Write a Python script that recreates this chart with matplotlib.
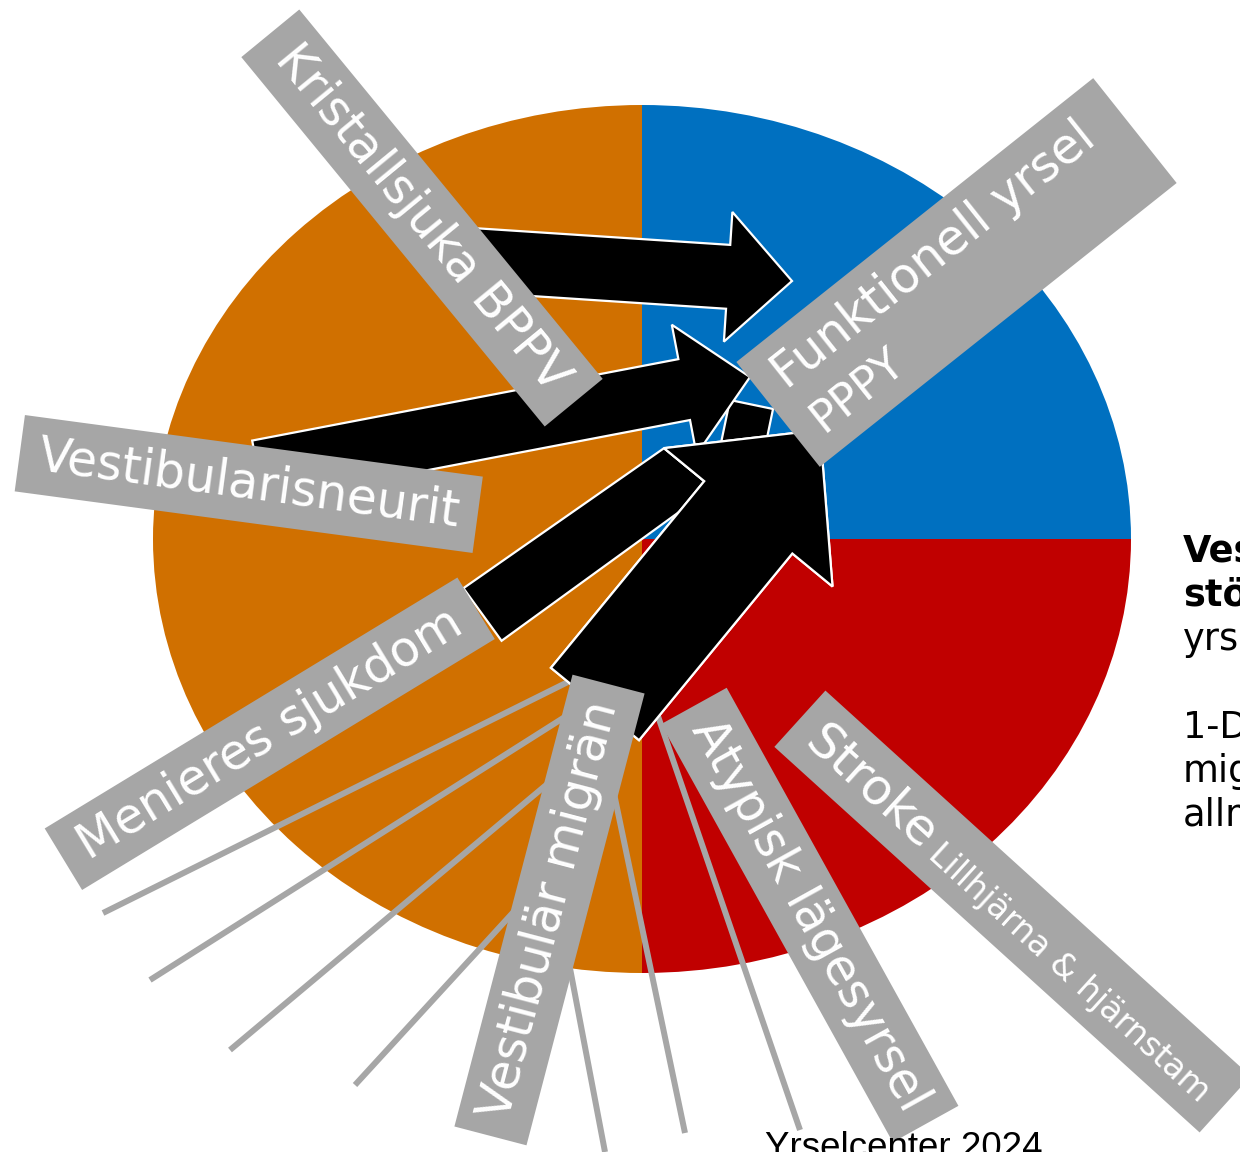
import numpy as np
import matplotlib
matplotlib.use("Agg")
import matplotlib.pyplot as plt
from matplotlib.patches import Polygon

W, H = 1240, 1152
GREY = "#A6A6A6"

# andelar i cirkeln: blå, röd, orange
shares = [25, 25, 50]
slice_colors = ["#0070C0", "#C00000", "#D07000"]

# etiketter
lbl_bppv = "Kristallsjuka BPPV"
lbl_pppy = ["Funktionell yrsel", "PPPY"]
lbl_neurit = "Vestibularisneurit"
lbl_meniere = "Menieres sjukdom"
lbl_migran = "Vestibulär migrän"
lbl_atypisk = "Atypisk lägesyrsel"
lbl_stroke = ["Stroke", "Lillhjärna & hjärnstam"]

side_lines = ["Vestibulära", "störningar", "yrsel", "", "1-Dos", "migrän", "allmänt"]
side_bold = [True, True, False, False, False, False, False]
footer = "Yrselcenter 2024"

fig = plt.figure(figsize=(12.4, 11.52), dpi=100)

# cirkeln ritas utsträckt till en ellips
pie_ax = fig.add_axes([153 / W, 1 - 973 / H, 978 / W, 868 / H])
pie_ax.pie(shares, colors=slice_colors, startangle=90, counterclock=False,
           radius=1, wedgeprops=dict(linewidth=0))
pie_ax.set_aspect("auto")
pie_ax.set_xlim(-1, 1)
pie_ax.set_ylim(-1, 1)
pie_ax.axis("off")

# överlägg i pixelkoordinater (y nedåt)
ax = fig.add_axes([0, 0, 1, 1], zorder=2)
ax.set_xlim(0, W)
ax.set_ylim(H, 0)
ax.axis("off")
ax.patch.set_alpha(0)


def block_arrow(tail, tip, shaft, head_w, head_len, z):
    tail = np.array(tail, float)
    tip = np.array(tip, float)
    d = (tip - tail) / np.hypot(*(tip - tail))
    n = np.array([d[1], -d[0]])
    base = tip - d * head_len
    pts = [tail + n * shaft, base + n * shaft, base + n * head_w, tip,
           base - n * head_w, base - n * shaft, tail - n * shaft]
    ax.add_patch(Polygon(pts, closed=True, fc="black", ec="white", lw=1.6,
                         joinstyle="miter", zorder=z))
    return pts


def label_box(center, ang, length, width, z=6):
    t = np.deg2rad(ang)
    u = np.array([np.cos(t), -np.sin(t)])
    v = np.array([-np.sin(t), -np.cos(t)])
    c = np.array(center, float)
    pts = [c - u * length / 2 + v * width / 2, c + u * length / 2 + v * width / 2,
           c + u * length / 2 - v * width / 2, c - u * length / 2 - v * width / 2]
    ax.add_patch(Polygon(pts, closed=True, fc=GREY, ec="none", zorder=z))
    return c, u, v


def put(box, ang, along, across, s, size, ha="center", va="center"):
    c, u, v = box
    p = c + u * along + v * across
    ax.text(p[0], p[1], s, rotation=ang, rotation_mode="anchor", ha=ha, va=va,
            fontsize=size, color="white", zorder=7)


# grå linjer som strålar ut under migränetiketten
fan = [((590, 671), (103, 913)), ((590, 701), (150, 980)),
       ((570, 765), (230, 1050)), ((530, 894), (355, 1085)),
       ((557, 900), (605, 1152)), ((607, 760), (685, 1133)),
       ((649, 690), (800, 1130))]
for (x0, y0), (x1, y1) in fan:
    ax.plot([x0, x1], [y0, y1], color=GREY, lw=4.3, solid_capstyle="butt", zorder=2)

# pilar
block_arrow((721, 551), (751.5, 404.5), 22, 22, 0, 3)
block_arrow((441, 258), (792, 281), 32, 65, 64, 3)
big = [(595, 704), (820, 430), 57, 109, 113]
tail_m = np.array([482.5, 614.5])
d_m = np.array([0.809, -0.587])
n_m = np.array([-0.587, -0.809]) * 32.5
big_pts = block_arrow(*big, 5)
meniere = [tail_m + n_m, big_pts[2], big_pts[1], tail_m - n_m + d_m * 245, tail_m - n_m]
ax.add_patch(Polygon(meniere, closed=True, fc="black", ec="white", lw=1.6,
                     joinstyle="miter", zorder=3))
block_arrow((258, 471), (750, 377), 31, 66, 67, 4)
# stora pilen läggs överst
block_arrow(*big, 5)

# etikettrutor
b = label_box((422, 218), -50.6, 478, 75)
put(b, -50.6, 0, 0, lbl_bppv, 35)

b = label_box((956.5, 272.5), 38.5, 456, 134)
put(b, 38.5, -206, 28, lbl_pppy[0], 35, ha="left")
put(b, 38.5, -204, -30, lbl_pppy[1], 32, ha="left")

b = label_box((248.75, 484), -7.66, 462, 77)
put(b, -7.66, 0, 0, lbl_neurit, 35)

b = label_box((269.75, 733.75), 31.3, 483, 72)
put(b, 31.3, 0, 0, lbl_meniere, 35)

b = label_box((549.5, 910), 75.35, 467, 74.5)
put(b, 75.35, 0, 0, lbl_migran, 35)

b = label_box((809.75, 915), -61.0, 478, 75)
put(b, -61.0, 0, 0, lbl_atypisk, 35)

b = label_box((1012.5, 911.5), -42.2, 574, 76)
put(b, -42.2, -267, -17, lbl_stroke[0], 36, ha="left", va="baseline")
put(b, -42.2, -100, -17, lbl_stroke[1], 24, ha="left", va="baseline")

# text till höger
y = 562
for s, bold in zip(side_lines, side_bold):
    if s:
        ax.text(1183, y, s, fontsize=26.5, fontweight="bold" if bold else "normal",
                ha="left", va="baseline", color="black", zorder=8)
    y += 44

ax.text(765, 1158, footer, fontsize=26.5, family="Liberation Sans",
        ha="left", va="baseline", color="black", zorder=8)

fig.savefig("out.png", dpi=100)
